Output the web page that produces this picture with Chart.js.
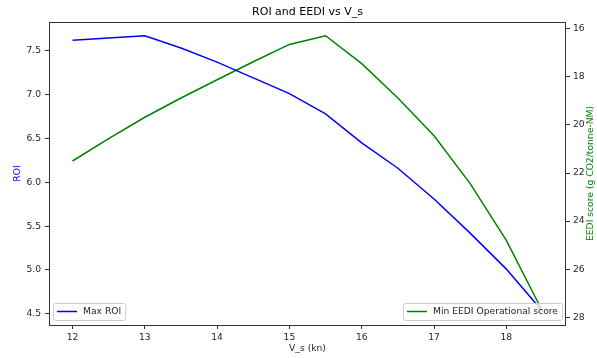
<!DOCTYPE html>
<html><head><meta charset="utf-8">
<script src="https://cdn.jsdelivr.net/npm/chart.js@4.4.0/dist/chart.umd.min.js"></script>
<style>html,body{margin:0;padding:0;background:#fff;} canvas{display:block;}</style>
</head><body>
<canvas id="c" width="597" height="358"></canvas>
<script>
const speeds = [12, 12.5, 13, 13.5, 14, 14.5, 15, 15.5, 16, 16.5, 17, 17.5, 18, 18.5];
const maxROI = [7.62, 7.645, 7.67, 7.53, 7.37, 7.19, 7.01, 6.78, 6.45, 6.16, 5.81, 5.42, 5.01, 4.53];
const minEEDI = [21.5, 20.57, 19.68, 18.88, 18.12, 17.37, 16.65, 16.29, 17.45, 18.88, 20.45, 22.44, 24.8, 27.75];
const xTicks = [12, 13, 14, 15, 16, 17, 18];
const roiTicks = [4.5, 5.0, 5.5, 6.0, 6.5, 7.0, 7.5];
const eediTicks = [16, 18, 20, 22, 24, 26, 28];
const titleText = 'ROI and EEDI vs V_s';
const xLabel = 'V_s (kn)';
const roiLabel = 'ROI';
const eediLabel = 'EEDI score (g CO2/tonne-NM)';
const roiName = 'Max ROI';
const eediName = 'Min EEDI Operational score';

const FAMILY = '"DejaVu Sans", sans-serif';
const FS = 9.2;
const TEXT = '#262626';
const BLUE = '#0000ff';
const GREEN = '#008000';

function padRange(arr) {
  const lo = Math.min(...arr), hi = Math.max(...arr), m = (hi - lo) * 0.05;
  return [lo - m, hi + m];
}
const [xMin, xMax] = padRange(speeds);
const [rMin, rMax] = padRange(maxROI);
const [eMin, eMax] = padRange(minEEDI);

const tickFont = {family: FAMILY, size: FS};
const gridCfg = {drawOnChartArea: false, drawTicks: true, tickLength: 4, color: '#333', tickWidth: 1};

const decor = {
  id: 'decor',
  afterDraw(chart) {
    const ctx = chart.ctx, ca = chart.chartArea;
    ctx.save();
    ctx.strokeStyle = '#333';
    ctx.lineWidth = 1;
    ctx.strokeRect(ca.left + 0.5, ca.top + 0.5, ca.right - ca.left - 1, ca.bottom - ca.top);
    ctx.fillStyle = '#000';
    ctx.textAlign = 'center';
    ctx.textBaseline = 'middle';
    ctx.font = '11px ' + FAMILY;
    const cx = (ca.left + ca.right) / 2, cy = (ca.top + ca.bottom) / 2;
    ctx.fillText(titleText, cx, 12);
    ctx.font = FS + 'px ' + FAMILY;
    ctx.fillStyle = TEXT;
    ctx.fillText(xLabel, cx, 349);
    ctx.save();
    ctx.translate(18, cy); ctx.rotate(-Math.PI / 2);
    ctx.fillStyle = BLUE; ctx.fillText(roiLabel, 0, 0);
    ctx.restore();
    ctx.save();
    ctx.translate(591, cy); ctx.rotate(-Math.PI / 2);
    ctx.fillStyle = GREEN; ctx.fillText(eediLabel, 0, 0);
    ctx.restore();
    function legend(x, alignRight, label, color) {
      ctx.font = FS + 'px ' + FAMILY;
      const tw = ctx.measureText(label).width;
      const w = 4 + 20 + 6 + tw + 4, h = 17;
      const bx = alignRight ? x - w : x, by = ca.bottom - 22;
      ctx.beginPath();
      if (ctx.roundRect) ctx.roundRect(bx + 0.5, by + 0.5, w, h, 2); else ctx.rect(bx + 0.5, by + 0.5, w, h);
      ctx.fillStyle = 'rgba(255,255,255,0.8)';
      ctx.fill();
      ctx.strokeStyle = '#cccccc';
      ctx.lineWidth = 1;
      ctx.stroke();
      const ly = by + 8.5;
      ctx.beginPath();
      ctx.moveTo(bx + 4, ly); ctx.lineTo(bx + 24, ly);
      ctx.strokeStyle = color; ctx.lineWidth = 1.5; ctx.stroke();
      ctx.fillStyle = TEXT;
      ctx.textAlign = 'left'; ctx.textBaseline = 'middle';
      ctx.fillText(label, bx + 30, ly + 0.5);
    }
    legend(ca.left + 4, false, roiName, BLUE);
    legend(ca.right - 4, true, eediName, GREEN);
    ctx.restore();
  }
};

new Chart(document.getElementById('c'), {
  type: 'line',
  data: {
    datasets: [
      {label: roiName, data: speeds.map((s, i) => ({x: s, y: maxROI[i]})), borderColor: BLUE, borderWidth: 1.5, pointRadius: 0, tension: 0, yAxisID: 'y', fill: false},
      {label: eediName, data: speeds.map((s, i) => ({x: s, y: minEEDI[i]})), borderColor: GREEN, borderWidth: 1.5, pointRadius: 0, tension: 0, yAxisID: 'y1', fill: false}
    ]
  },
  options: {
    responsive: false,
    devicePixelRatio: 1,
    animation: false,
    layout: {padding: {top: 22, left: 0, right: 0, bottom: 0}},
    plugins: {legend: {display: false}, title: {display: false}, tooltip: {enabled: false}},
    scales: {
      x: {
        type: 'linear', position: 'bottom', min: xMin, max: xMax,
        afterBuildTicks: s => { s.ticks = xTicks.map(v => ({value: v})); },
        afterFit: s => { s.height = 33; },
        ticks: {font: tickFont, color: TEXT, padding: 3, maxRotation: 0, callback: v => String(v)},
        grid: gridCfg, border: {display: false}
      },
      y: {
        type: 'linear', position: 'left', min: rMin, max: rMax,
        afterBuildTicks: s => { s.ticks = roiTicks.map(v => ({value: v})); },
        afterFit: s => { s.width = 49; },
        ticks: {font: tickFont, color: TEXT, padding: 4, callback: v => Number(v).toFixed(1)},
        grid: gridCfg, border: {display: false}
      },
      y1: {
        type: 'linear', position: 'right', min: eMin, max: eMax, reverse: true,
        afterBuildTicks: s => { s.ticks = eediTicks.map(v => ({value: v})); },
        afterFit: s => { s.width = 31; },
        ticks: {font: tickFont, color: TEXT, padding: 3, callback: v => String(v)},
        grid: gridCfg, border: {display: false}
      }
    }
  },
  plugins: [decor]
});
</script>
</body></html>
